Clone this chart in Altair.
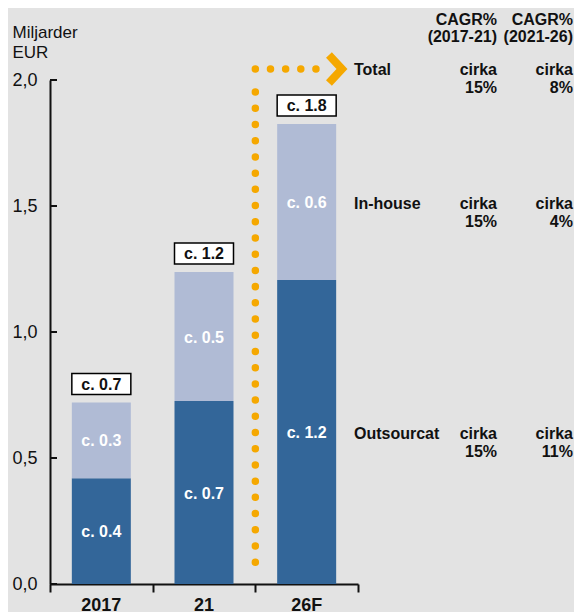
import altair as alt
import pandas as pd

# ---------------- data ----------------
categories = ["2017", "21", "26F"]
outsourced = [0.42, 0.726, 1.206]
in_house = [0.30, 0.512, 0.619]
outsourced_labels = ["c. 0.4", "c. 0.7", "c. 1.2"]
in_house_labels = ["c. 0.3", "c. 0.5", "c. 0.6"]
total_labels = ["c. 0.7", "c. 1.2", "c. 1.8"]

row_names = ["Total", "In-house", "Outsourcat"]
cagr_2017_21 = ["15%", "15%", "15%"]
cagr_2021_26 = ["8%", "4%", "11%"]
header_line1 = ["CAGR%", "CAGR%"]
header_line2 = ["(2017-21)", "(2021-26)"]
y_ticks = [0.0, 0.5, 1.0, 1.5, 2.0]
x_ticks = [0, 1, 2, 3]

# ---------------- styles ----------------
DARK = "#336699"
LIGHT = "#b0bbd5"
ORANGE = "#f5a800"
INK = "#111111"
BG = "#e3e3e3"
FONT = "Liberation Sans"

# ---------------- tables ----------------
seg_rows = []
tot_rows = []
for i, c in enumerate(categories):
    pos = i + 0.5
    o, h = outsourced[i], in_house[i]
    seg_rows.append(dict(cat=c, pos=pos, y0=0.0, y1=o, mid=o / 2, seg="out", label=outsourced_labels[i]))
    seg_rows.append(dict(cat=c, pos=pos, y0=o, y1=o + h, mid=o + h / 2, seg="in", label=in_house_labels[i]))
    tot_rows.append(dict(cat=c, pos=pos, total=o + h, label=total_labels[i]))
seg = pd.DataFrame(seg_rows)
tot = pd.DataFrame(tot_rows)

# annotation levels: total arrow level, and the forecast-bar segment midpoints
arrow_level = 2.044
last = len(categories) - 1
levels = [arrow_level, outsourced[last] + in_house[last] / 2, outsourced[last] / 2]
rows = pd.DataFrame(dict(name=row_names, c1=cagr_2017_21, c2=cagr_2021_26, level=levels))

LABEL_COL = 2.961
COL1 = 4.354
COL2 = 5.094
HEAD_LEVEL = 2.238
heads = pd.DataFrame(dict(l1=header_line1, l2=header_line2, col=[COL1, COL2]))

hline = pd.DataFrame(dict(x=[2.0, 2.737], y=[arrow_level, arrow_level], o=[0, 1]))
vline = pd.DataFrame(dict(x=[2.0, 2.0], y=[1.952, 0.024], o=[0, 1]))
chevron = pd.DataFrame(dict(x=[2.717, 2.844, 2.717], y=[2.099, arrow_level, 1.988], o=[0, 1, 2]))

xscale = alt.Scale(domain=[0, 3], nice=False, zero=False, padding=0)
yscale = alt.Scale(domain=[0, 2], nice=False, padding=0)

xaxis = alt.Axis(values=x_ticks, labels=False, tickSize=8, tickWidth=2, tickColor=INK,
                 domainWidth=2, domainColor=INK, grid=False, title=None)
yaxis = alt.Axis(values=y_ticks, labelExpr="replace(format(datum.value, '.1f'), '.', ',')",
                 labelFontSize=18, labelFont=FONT, labelColor=INK, labelPadding=13,
                 ticks=False, tickSize=0, domainWidth=2, domainColor=INK, grid=False,
                 title=["Miljarder", "EUR"], titleAngle=0, titleAlign="left",
                 titleBaseline="top", titleX=-38, titleY=-56, titleFontSize=17,
                 titleFont=FONT, titleFontWeight="normal", titleColor=INK, titleLineHeight=20)

bars = alt.Chart(seg).mark_bar(size=59).encode(
    x=alt.X("pos:Q", scale=xscale, axis=xaxis),
    y=alt.Y("y0:Q", scale=yscale, axis=yaxis),
    y2="y1:Q",
    color=alt.Color("seg:N", scale=alt.Scale(domain=["out", "in"], range=[DARK, LIGHT]), legend=None),
)

seg_text = alt.Chart(seg).mark_text(color="white", font=FONT, fontWeight="bold", fontSize=16,
                                    baseline="middle", dy=1).encode(
    x="pos:Q", y="mid:Q", text="label:N")

boxes = alt.Chart(tot).mark_bar(size=59, fill="white", stroke="black", strokeWidth=1.5,
                                yOffset=-29, y2Offset=-8).encode(
    x="pos:Q", y="total:Q", y2="total:Q")
box_text = alt.Chart(tot).mark_text(color=INK, font=FONT, fontWeight="bold", fontSize=16,
                                    baseline="middle", dy=-18).encode(
    x="pos:Q", y="total:Q", text="label:N")

cat_text = alt.Chart(tot).mark_text(color=INK, font=FONT, fontWeight="bold", fontSize=18,
                                    baseline="top", dy=13).encode(
    x="pos:Q", y=alt.datum(0), text="cat:N")

ytick_df = pd.DataFrame(dict(v=y_ticks))
yticks_in = alt.Chart(ytick_df).mark_rule(color=INK, strokeWidth=2).encode(
    y="v:Q", x=alt.value(0), x2=alt.value(7))

h_dots = alt.Chart(hline).mark_line(color=ORANGE, strokeWidth=7.5, strokeCap="round",
                                    strokeDash=[0.01, 15.14]).encode(x="x:Q", y="y:Q", order="o:Q")
v_dots = alt.Chart(vline).mark_line(color=ORANGE, strokeWidth=7.5, strokeCap="round",
                                    strokeDash=[0.01, 16.2]).encode(x="x:Q", y="y:Q", order="o:Q")
chev = alt.Chart(chevron).mark_line(color=ORANGE, strokeWidth=8, strokeJoin="miter",
                                    strokeCap="butt").encode(x="x:Q", y="y:Q", order="o:Q")

tstyle = dict(color=INK, font=FONT, fontWeight="bold", fontSize=16, baseline="middle")
row_name = alt.Chart(rows).mark_text(align="left", dy=1.5, **tstyle).encode(
    x=alt.datum(LABEL_COL), y="level:Q", text="name:N")
c1a = alt.Chart(rows).mark_text(align="right", dy=1.5, **tstyle).encode(
    x=alt.datum(COL1), y="level:Q", text=alt.value("cirka"))
c1b = alt.Chart(rows).mark_text(align="right", dy=19.5, **tstyle).encode(
    x=alt.datum(COL1), y="level:Q", text="c1:N")
c2a = alt.Chart(rows).mark_text(align="right", dy=1.5, **tstyle).encode(
    x=alt.datum(COL2), y="level:Q", text=alt.value("cirka"))
c2b = alt.Chart(rows).mark_text(align="right", dy=19.5, **tstyle).encode(
    x=alt.datum(COL2), y="level:Q", text="c2:N")
h1 = alt.Chart(heads).mark_text(align="right", **tstyle).encode(
    x="col:Q", y=alt.datum(HEAD_LEVEL), text="l1:N")
h2 = alt.Chart(heads).mark_text(align="right", dy=17, **tstyle).encode(
    x="col:Q", y=alt.datum(HEAD_LEVEL), text="l2:N")

chart = alt.layer(
    bars, seg_text, boxes, box_text, cat_text, yticks_in,
    v_dots, h_dots, chev, row_name, c1a, c1b, c2a, c2b, h1, h2
).properties(
    width=308, height=504,
    background=BG,
    autosize=alt.AutoSizeParams(type="none"),
    padding={"left": 42, "top": 72, "right": 216, "bottom": 30},
).configure_view(stroke=None)

chart.save("out.html", embed_options={"renderer": "svg", "actions": False})
